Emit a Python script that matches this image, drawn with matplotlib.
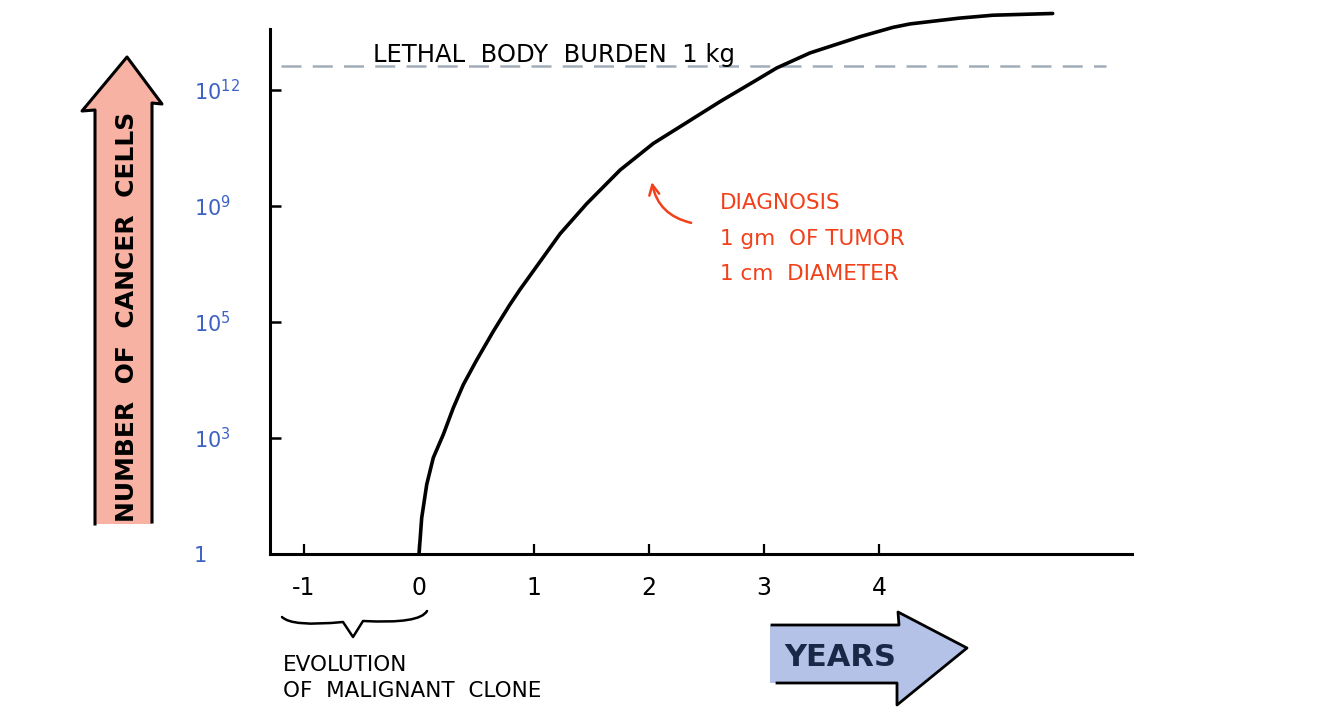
import matplotlib
matplotlib.use("Agg")
import matplotlib.pyplot as plt
from matplotlib.patches import Polygon, PathPatch
from matplotlib.path import Path

# ---- data ----
years = [0.0, 0.009, 0.023, 0.067, 0.124, 0.211, 0.298, 0.385, 0.50, 0.646, 0.79,
         0.878, 1.052, 1.226, 1.458, 1.748, 2.038, 2.328, 2.617, 2.907, 3.11,
         3.40, 3.835, 4.12, 4.27, 4.70, 4.99, 5.51]
cell_level = [0.0, 0.12, 0.31, 0.60, 0.83, 1.03, 1.26, 1.46, 1.67, 1.92, 2.15,
              2.28, 2.52, 2.76, 3.02, 3.31, 3.54, 3.72, 3.90, 4.07, 4.19,
              4.32, 4.46, 4.54, 4.57, 4.62, 4.645, 4.66]
x_ticks = [-1, 0, 1, 2, 3, 4]
x_tick_labels = ["-1", "0", "1", "2", "3", "4"]
y_ticks = [0, 1, 2, 3, 4]
y_tick_labels = ["1", "$10^3$", "$10^5$", "$10^9$", "$10^{12}$"]
lethal_level = 4.21
lethal_label = "LETHAL  BODY  BURDEN  1 kg"
diagnosis_lines = ["DIAGNOSIS", "1 gm  OF TUMOR", "1 cm  DIAMETER"]
diagnosis_point = (2.02, 3.23)

W, H = 1326, 717
fig = plt.figure(figsize=(W / 100, H / 100), dpi=100)
fig.patch.set_facecolor("white")

# main axes: pixel box x 270..1132, y 10..554
ax = fig.add_axes([270 / W, (H - 554) / H, 862 / W, 544 / H])
ax.set_facecolor("none")
ax.set_xlim(-1.296, 6.2)
ax.set_ylim(0, 4.69)
for s in ["top", "right"]:
    ax.spines[s].set_visible(False)
for s in ["left", "bottom"]:
    ax.spines[s].set_linewidth(2.2)
    ax.spines[s].set_color("black")
ax.spines["left"].set_bounds(0, 4.53)

ax.plot(years, cell_level, color="black", lw=2.6, solid_capstyle="round",
        solid_joinstyle="round", clip_on=False, zorder=3)
ax.plot([-1.2, 5.97], [lethal_level, lethal_level], color="#a3adb9", lw=1.8,
        dashes=(8, 4.5), zorder=2, clip_on=False)

ax.set_xticks(x_ticks)
ax.set_xticklabels(x_tick_labels, fontsize=17, color="black")
ax.set_yticks(y_ticks)
ax.set_yticklabels(y_tick_labels, fontsize=15, color="#3d62c4")
ax.tick_params(axis="x", direction="in", length=7, width=1.6, pad=16)
ax.tick_params(axis="y", direction="in", length=8, width=1.8, pad=55)
for lab in ax.get_yticklabels():
    lab.set_horizontalalignment("left")

ax.text(-0.40, 4.30, lethal_label, fontsize=17.5, color="black",
        ha="left", va="center")

for i, line in enumerate(diagnosis_lines):
    ax.text(2.62, 3.03 - i * 0.31, line, fontsize=15.5, color="#f2401a",
            ha="left", va="center")
ax.annotate("", xy=diagnosis_point, xytext=(2.39, 2.85),
            arrowprops=dict(arrowstyle="->", color="#f2401a", lw=1.8,
                            connectionstyle="arc3,rad=-0.35",
                            mutation_scale=18))

# ---- decoration overlay in pixel coordinates ----
ov = fig.add_axes([0, 0, 1, 1], zorder=-1)
ov.set_xlim(0, W)
ov.set_ylim(H, 0)
ov.axis("off")

# pink vertical arrow
pink = [(95, 524), (95, 110), (82, 111), (127, 57), (162, 104), (152, 103), (152, 524)]
ov.add_patch(Polygon(pink, closed=True, facecolor="#f8b2a3", edgecolor="none"))
ov.plot([95, 95, 82, 127, 162, 152, 152], [524, 110, 111, 57, 104, 103, 522],
        color="black", lw=2.2, solid_joinstyle="round")
ov.text(127, 317, "NUMBER  OF  CANCER  CELLS", rotation=90, fontsize=18,
        fontweight="bold", color="black", ha="center", va="center")

# blue horizontal arrow
blue = [(770, 625), (899, 625), (898, 612), (967, 648), (897, 705), (897, 683), (770, 683)]
ov.add_patch(Polygon(blue, closed=True, facecolor="#b3c2e6", edgecolor="none"))
ov.plot([772, 899, 898, 967, 897, 897, 777], [625, 625, 612, 648, 705, 683, 683],
        color="black", lw=2.0, solid_joinstyle="round")
ov.text(840, 657, "YEARS", fontsize=22, fontweight="bold", color="#1b2747",
        ha="center", va="center")

# brace under -1..0
verts = [(282, 617), (292, 627), (343, 622), (353, 637), (363, 621),
         (420, 624), (427, 611)]
codes = [Path.MOVETO, Path.CURVE3, Path.CURVE3, Path.LINETO, Path.LINETO,
         Path.CURVE3, Path.CURVE3]
ov.add_patch(PathPatch(Path(verts, codes), facecolor="none", edgecolor="black",
                       lw=1.8, capstyle="round", joinstyle="round"))
ov.text(283, 665, "EVOLUTION", fontsize=15.5, color="black", ha="left", va="center")
ov.text(283, 691, "OF  MALIGNANT  CLONE", fontsize=15.5, color="black",
        ha="left", va="center")

fig.savefig("out.png", dpi=100, facecolor="white")
